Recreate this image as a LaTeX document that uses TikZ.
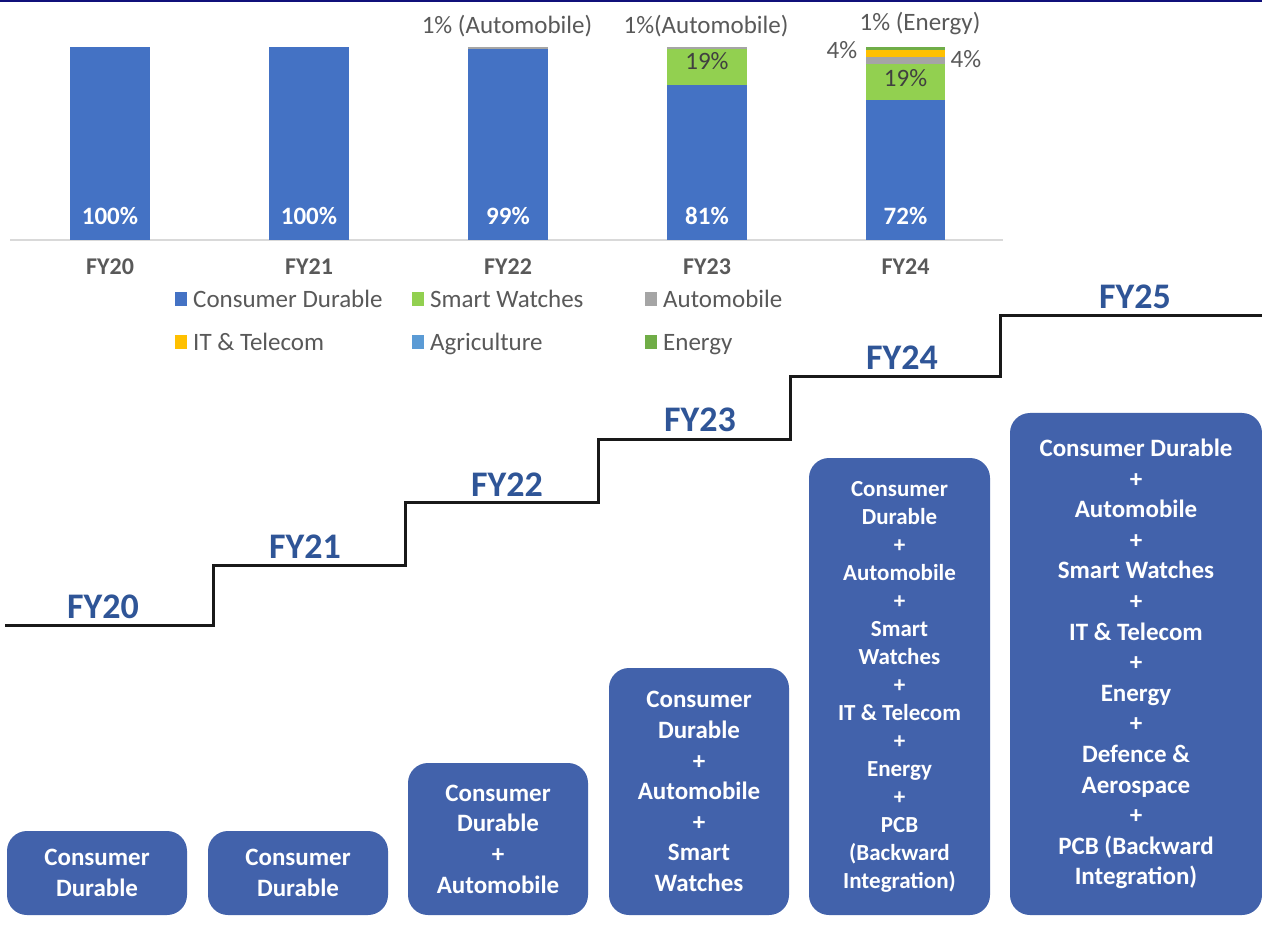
\documentclass[tikz,border=0pt]{standalone}
\usepackage{fontspec}
\setmainfont{Carlito}
\definecolor{cdblue}{HTML}{4472C4}
\definecolor{swgreen}{HTML}{92D050}
\definecolor{autogray}{HTML}{A5A5A5}
\definecolor{ityellow}{HTML}{FFC000}
\definecolor{agblue}{HTML}{5B9BD5}
\definecolor{engreen}{HTML}{70AD47}
\definecolor{boxblue}{HTML}{4262AB}
\definecolor{stepblue}{HTML}{2F5597}
\definecolor{txtgray}{HTML}{595959}
\definecolor{navy}{HTML}{10107A}
\tikzset{
  chartlbl/.style={font={\fontsize{25}{30}\selectfont}, text=txtgray, inner sep=0pt},
  barpct/.style={font={\fontsize{25}{30}\selectfont\bfseries}, text=white, inner sep=0pt},
  innerpct/.style={font={\fontsize{25}{30}\selectfont}, text=black!75, inner sep=0pt},
  catlbl/.style={font={\fontsize{24}{30}\selectfont\bfseries}, text=txtgray, inner sep=0pt},
  steplbl/.style={font={\fontsize{36}{40}\selectfont\bfseries}, text=stepblue, inner sep=0pt},
  stair/.style={line width=3pt, draw=black!90},
  segbox/.style={rectangle, rounded corners=20pt, fill=boxblue, text=white, align=center,
    inner sep=0pt, font={\fontsize{25}{30.6}\selectfont\bfseries}},
  legsq/.style={inner sep=0pt, minimum width=12pt, minimum height=14pt},
}
\begin{document}
\begin{tikzpicture}[x=1pt,y=-1pt]
\useasboundingbox (0,0) rectangle (1262,925);
\fill[white] (0,0) rectangle (1262,925);
% top rule
\fill[navy] (0,0) rectangle (1262,2.5);
% axis
\draw[line width=1.5pt, draw=black!15] (10,240) -- (1003,240);
% bars
\fill[cdblue] (70,47) rectangle (150,240);
\fill[cdblue] (269,47) rectangle (349,240);
\fill[cdblue] (468,49) rectangle (548,240);
\fill[autogray] (468,47) rectangle (548,49);
\fill[cdblue] (667,85) rectangle (747,240);
\fill[swgreen] (667,49) rectangle (747,85);
\fill[autogray] (667,47) rectangle (747,49);
\fill[cdblue] (866,100) rectangle (945,240);
\fill[swgreen] (866,64) rectangle (945,100);
\fill[autogray] (866,57) rectangle (945,64);
\fill[ityellow] (866,50) rectangle (945,57);
\fill[engreen] (866,47) rectangle (945,50);
% bar labels
\node[barpct] (p20) at (110,216) {100\%};
\node[barpct] (p21) at (309,216) {100\%};
\node[barpct] (p22) at (508,216) {99\%};
\node[barpct] (p23) at (707,216) {81\%};
\node[barpct] (p24) at (905.5,216) {72\%};
\node[innerpct] (g23) at (707,61) {19\%};
\node[innerpct] (g24) at (905.5,78) {19\%};
\node[chartlbl] (t22) at (507,26) {1\% (Automobile)};
\node[chartlbl] (t23) at (706,26) {1\%(Automobile)};
\node[chartlbl] (t24) at (920,24) {1\% (Energy)};
\node[chartlbl] (l4) at (842,50) {4\%};
\node[chartlbl] (r4) at (966,59) {4\%};
% category labels
\node[catlbl] (c20) at (110,267) {FY20};
\node[catlbl] (c21) at (309,267) {FY21};
\node[catlbl] (c22) at (508,267) {FY22};
\node[catlbl] (c23) at (707,267) {FY23};
\node[catlbl] (c24) at (905.5,267) {FY24};
% legend
\node[legsq, fill=cdblue] (s1) at (181,299) {};
\node[chartlbl, anchor=base west] (e1) at (193,307.5) {Consumer Durable};
\node[legsq, fill=swgreen] (s2) at (418,299) {};
\node[chartlbl, anchor=base west] (e2) at (430,307.5) {Smart Watches};
\node[legsq, fill=autogray] (s3) at (651,299) {};
\node[chartlbl, anchor=base west] (e3) at (663,307.5) {Automobile};
\node[legsq, fill=ityellow] (s4) at (181,342) {};
\node[chartlbl, anchor=base west] (e4) at (193,350.5) {IT \& Telecom};
\node[legsq, fill=agblue] (s5) at (418,342) {};
\node[chartlbl, anchor=base west] (e5) at (430,350.5) {Agriculture};
\node[legsq, fill=engreen] (s6) at (651,342) {};
\node[chartlbl, anchor=base west] (e6) at (663,350.5) {Energy};
% staircase
\coordinate (a0) at (5,625);
\coordinate (a1) at (213,625);
\coordinate (a2) at (213,565);
\coordinate (a3) at (405,565);
\coordinate (a4) at (405,502);
\coordinate (a5) at (598,502);
\coordinate (a6) at (598,440);
\coordinate (a7) at (790,440);
\coordinate (a8) at (790,377);
\coordinate (a9) at (1000,377);
\coordinate (a10) at (1000,316);
\coordinate (a11) at (1262,316);
\draw[stair] (a0) -- (a1) -- (a2) -- (a3) -- (a4) -- (a5) -- (a6) -- (a7) -- (a8) -- (a9) -- (a10) -- (a11);
\node[steplbl] (f20) at (103,607) {FY20};
\node[steplbl] (f21) at (305,547) {FY21};
\node[steplbl] (f22) at (507,485) {FY22};
\node[steplbl] (f23) at (700,420) {FY23};
\node[steplbl] (f24) at (902,358) {FY24};
\node[steplbl] (f25) at (1135,297) {FY25};
% segment boxes
\node[segbox, minimum width=180pt, minimum height=84pt] (b1) at (97,873) {Consumer\\Durable};
\node[segbox, minimum width=180pt, minimum height=84pt] (b2) at (298,873) {Consumer\\Durable};
\node[segbox, minimum width=180pt, minimum height=152pt] (b3) at (498,839) {Consumer\\Durable\\+\\Automobile};
\node[segbox, minimum width=180pt, minimum height=247pt] (b4) at (699,791.5) {Consumer\\Durable\\+\\Automobile\\+\\Smart\\Watches};
\node[segbox, minimum width=181pt, minimum height=457pt, font={\fontsize{23}{28}\selectfont\bfseries}] (b5) at (899.5,686.5) {Consumer\\Durable\\+\\Automobile\\+\\Smart\\Watches\\+\\IT \& Telecom\\+\\Energy\\+\\PCB\\(Backward\\Integration)};
\node[segbox, minimum width=252pt, minimum height=502pt] (b6) at (1136,664) {Consumer Durable\\+\\Automobile\\+\\Smart Watches\\+\\IT \& Telecom\\+\\Energy\\+\\Defence \&\\Aerospace\\+\\PCB (Backward\\Integration)};
\end{tikzpicture}
\end{document}
